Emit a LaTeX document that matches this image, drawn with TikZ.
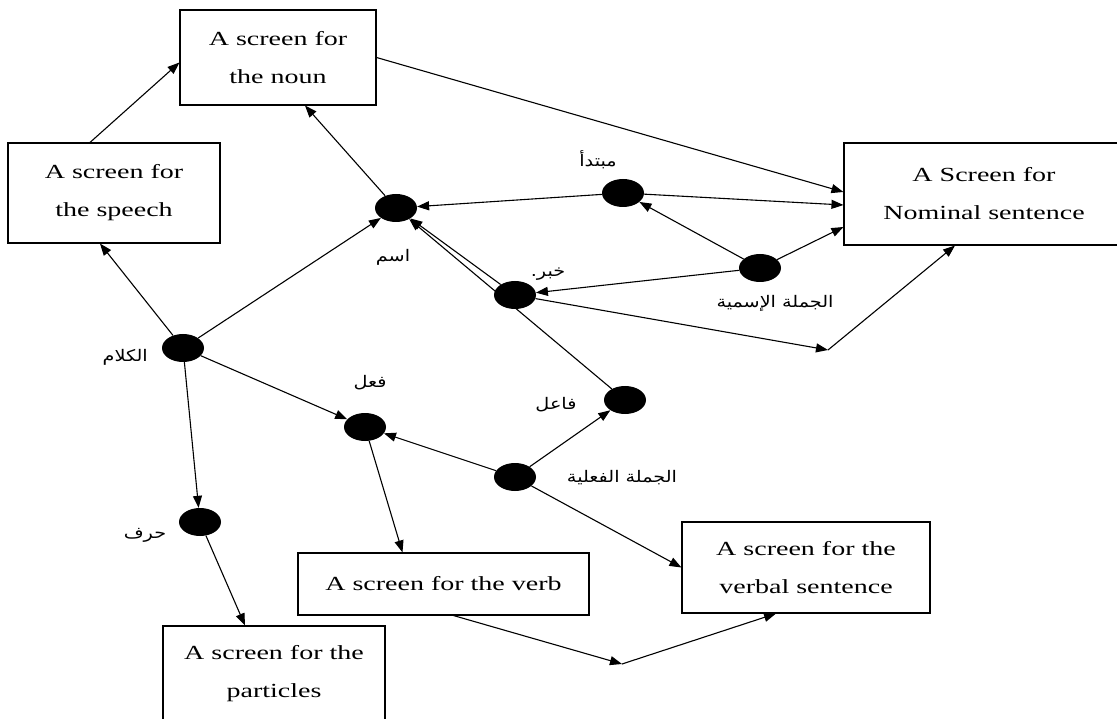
\documentclass[tikz,border=0pt]{standalone}
\usepackage{fontspec}
\newfontfamily\screenfont[FakeStretch=1.4]{Liberation Serif}
\newfontfamily\arabicfont[Script=Arabic,FakeStretch=1.2]{DejaVu Sans}
\TeXXeTstate=1
\usetikzlibrary{arrows.meta,shapes.geometric}
\tikzset{
  screen/.style={draw, rectangle, align=center, inner sep=0pt, line width=1.1pt,
    font=\screenfont\fontsize{20}{38}\selectfont},
  dot/.style={ellipse, fill=black, inner sep=0pt, minimum width=42pt, minimum height=28pt},
  word/.style={inner sep=0pt, font=\arabicfont\fontsize{16}{18}\selectfont},
  link/.style={-{Triangle[length=12pt,width=9pt]}, line width=1.1pt},
}
\begin{document}
\begin{tikzpicture}[x=1pt,y=-1pt]
    \useasboundingbox (0,0) rectangle (1117,719);
    % screens
    \node [screen, minimum width=196, minimum height=95] (noun) at (278,57.5) {A screen for\\the noun};
    \node [screen, minimum width=212, minimum height=100] (speech) at (114,193) {A screen for\\the speech};
    \node [screen, minimum width=280, minimum height=102] (nominal) at (984,194) {A Screen for\\Nominal sentence};
    \node [screen, minimum width=291, minimum height=62] (verb) at (443.5,584) {A screen for the verb};
    \node [screen, minimum width=248, minimum height=91] (verbal) at (806,567.5) {A screen for the\\verbal sentence};
    \node [screen, minimum width=222, minimum height=96] (particles) at (274,674) {A screen for the\\particles};
    % dots
    \node [dot] (ism) at (396,208) {};
    \node [dot] (mubtada) at (623,193) {};
    \node [dot] (khabar) at (515,295) {};
    \node [dot] (ismiya) at (760,268) {};
    \node [dot] (kalam) at (183,348) {};
    \node [dot] (fil) at (365,427) {};
    \node [dot] (faail) at (625,400) {};
    \node [dot] (filiya) at (515,477) {};
    \node [dot] (harf) at (200,522) {};
    \coordinate (bend1) at (828,350);
    \coordinate (bend2) at (622,664);
    % arabic words
    \node [word] (l-mubtada) at (598,160) {\beginR مبتدأ\endR};
    \node [word] (l-ism) at (393,257) {\beginR اسم\endR};
    \node [word] (l-khabar) at (548,274) {\beginR خبر.\endR};
    \node [word] (l-ismiya) at (775,303) {\beginR الجملة الإسمية\endR};
    \node [word, anchor=east] (l-kalam) at (148,357) {\beginR الكلام\endR};
    \node [word] (l-fil) at (370,383) {\beginR فعل\endR};
    \node [word] (l-faail) at (556,405) {\beginR فاعل\endR};
    \node [word] (l-filiya) at (622,478) {\beginR الجملة الفعلية\endR};
    \node [word] (l-harf) at (145,535) {\beginR حرف\endR};
    % links
    \draw [link] ([xshift=-24pt]speech.north) -- ([yshift=-5pt]noun.west);
    \draw [link] (kalam) -- ([xshift=-14pt]speech.south);
    \draw [link] (kalam) -- (ism);
    \draw [link] (kalam) -- (fil);
    \draw [link] (kalam) -- (harf);
    \draw [link] (harf) -- ([xshift=-29pt]particles.north);
    \draw [link] (ism) -- ([xshift=27pt]noun.south);
    \draw [link] (noun.east) -- ([yshift=2pt]nominal.west);
    \draw [link] (mubtada) -- (ism);
    \draw [link] (mubtada) -- ([yshift=-11pt]nominal.west);
    \draw [link] (ismiya) -- (mubtada);
    \draw [link] (ismiya) -- (khabar);
    \draw [link] (ismiya) -- ([yshift=-33pt]nominal.west);
    \draw [link] (khabar) -- (ism);
    \draw [link] (faail) -- (ism);
    \draw [link] (khabar) -- (bend1);
    \draw [link] (bend1) -- ([xshift=-29pt]nominal.south);
    \draw [link] (filiya) -- (fil);
    \draw [link] (filiya) -- (faail);
    \draw [link] (filiya) -- (verbal.west);
    \draw [link] (fil) -- ([xshift=-41pt]verb.north);
    \draw [link] ([xshift=10pt]verb.south) -- (bend2);
    \draw [link] (bend2) -- ([xshift=-30pt]verbal.south);
  \end{tikzpicture}
\end{document}
